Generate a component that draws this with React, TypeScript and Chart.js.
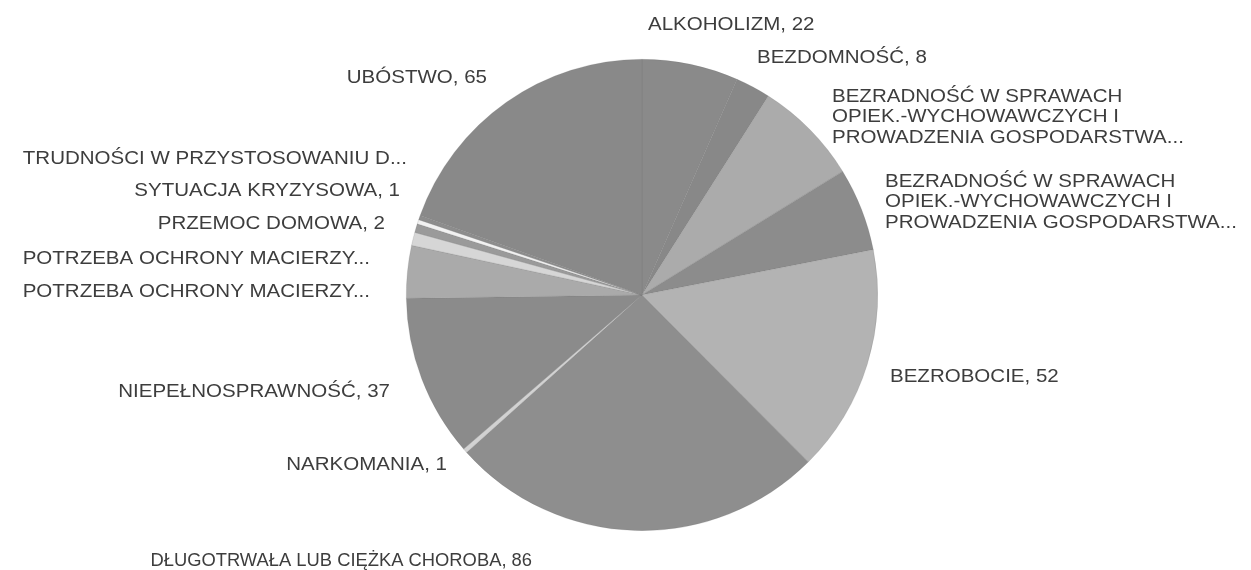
import React, { useEffect, useRef } from "react";
import { Chart, registerables } from "chart.js";

Chart.register(...registerables);

// ---- data ----
const categories = [
  "ALKOHOLIZM",
  "BEZDOMNOŚĆ",
  "BEZRADNOŚĆ W SPRAWACH OPIEK.-WYCHOWAWCZYCH I PROWADZENIA GOSPODARSTWA (1)",
  "BEZRADNOŚĆ W SPRAWACH OPIEK.-WYCHOWAWCZYCH I PROWADZENIA GOSPODARSTWA (2)",
  "BEZROBOCIE",
  "DŁUGOTRWAŁA LUB CIĘŻKA CHOROBA",
  "NARKOMANIA",
  "NIEPEŁNOSPRAWNOŚĆ",
  "POTRZEBA OCHRONY MACIERZYŃSTWA (1)",
  "POTRZEBA OCHRONY MACIERZYŃSTWA (2)",
  "PRZEMOC DOMOWA",
  "SYTUACJA KRYZYSOWA",
  "TRUDNOŚCI W PRZYSTOSOWANIU DO ŻYCIA",
  "UBÓSTWO",
];

const values = [22, 8, 24, 19, 52, 86, 1, 37, 12, 3, 2, 1, 1, 65];

const labelLines: string[][] = [
  ["ALKOHOLIZM, 22"],
  ["BEZDOMNOŚĆ, 8"],
  ["BEZRADNOŚĆ W SPRAWACH", "OPIEK.-WYCHOWAWCZYCH I", "PROWADZENIA GOSPODARSTWA..."],
  ["BEZRADNOŚĆ W SPRAWACH", "OPIEK.-WYCHOWAWCZYCH I", "PROWADZENIA GOSPODARSTWA..."],
  ["BEZROBOCIE, 52"],
  ["DŁUGOTRWAŁA LUB CIĘŻKA CHOROBA, 86"],
  ["NARKOMANIA, 1"],
  ["NIEPEŁNOSPRAWNOŚĆ, 37"],
  ["POTRZEBA OCHRONY MACIERZY..."],
  ["POTRZEBA OCHRONY MACIERZY..."],
  ["PRZEMOC DOMOWA, 2"],
  ["SYTUACJA KRYZYSOWA, 1"],
  ["TRUDNOŚCI W PRZYSTOSOWANIU D..."],
  ["UBÓSTWO, 65"],
];

const sliceColors = [
  "#8a8a8a",
  "#888888",
  "#ababab",
  "#8c8c8c",
  "#b3b3b3",
  "#8e8e8e",
  "#d2d2d2",
  "#8b8b8b",
  "#aaaaaa",
  "#d6d6d6",
  "#9a9a9a",
  "#f2f2f2",
  "#8d8d8d",
  "#898989",
];

// label anchor offsets relative to the pie centre (px), with horizontal text scale
const labelAnchors: { dx: number; dy: number; align: "left" | "right"; sx: number }[] = [
  { dx: 6, dy: -270, align: "left", sx: 1.14 },
  { dx: 115, dy: -237, align: "left", sx: 1.14 },
  { dx: 190, dy: -198, align: "left", sx: 1.14 },
  { dx: 243, dy: -113, align: "left", sx: 1.14 },
  { dx: 248, dy: 82, align: "left", sx: 1.14 },
  { dx: -110, dy: 266, align: "right", sx: 1.02 },
  { dx: -195, dy: 170, align: "right", sx: 1.14 },
  { dx: -252, dy: 97, align: "right", sx: 1.14 },
  { dx: -272, dy: -3, align: "right", sx: 1.14 },
  { dx: -272, dy: -36, align: "right", sx: 1.14 },
  { dx: -257, dy: -71, align: "right", sx: 1.14 },
  { dx: -242, dy: -104, align: "right", sx: 1.14 },
  { dx: -235, dy: -136, align: "right", sx: 1.14 },
  { dx: -155, dy: -217, align: "right", sx: 1.14 },
];

const LINE_H = 20.5;

const labelPlugin = {
  id: "sliceLabels",
  afterDatasetsDraw(chart: any) {
    const ctx = chart.ctx as CanvasRenderingContext2D;
    const arc = chart.getDatasetMeta(0).data[0] as any;
    if (!arc) return;
    const cx = arc.x;
    const cy = arc.y;
    ctx.save();
    ctx.font = '18px "Liberation Sans", Arial, sans-serif';
    ctx.fillStyle = "#3d3d3d";
    ctx.textBaseline = "middle";
    ctx.textAlign = "left";
    labelLines.forEach((lines, i) => {
      const a = labelAnchors[i];
      lines.forEach((ln, j) => {
        const w = ctx.measureText(ln).width * a.sx;
        const x0 = a.align === "right" ? cx + a.dx - w : cx + a.dx;
        ctx.save();
        ctx.translate(x0, cy + a.dy + j * LINE_H);
        ctx.scale(a.sx, 1);
        ctx.fillText(ln, 0, 0);
        ctx.restore();
      });
    });
    ctx.restore();
  },
};

export default function App() {
  const ref = useRef<HTMLCanvasElement | null>(null);

  useEffect(() => {
    document.body.style.margin = "0";
    document.body.style.background = "#ffffff";
    const canvas = ref.current;
    if (!canvas) return;
    const chart = new Chart(canvas, {
      type: "pie",
      data: {
        labels: categories,
        datasets: [
          {
            data: values,
            backgroundColor: sliceColors,
            borderColor: "rgba(110,110,110,0.3)",
            borderWidth: 0.6,
          },
        ],
      },
      options: {
        responsive: false,
        animation: false,
        devicePixelRatio: 1,
        layout: { padding: { top: 59, bottom: 39, left: 406, right: 373 } },
        plugins: {
          legend: { display: false },
          tooltip: { enabled: false },
          title: { display: false },
        },
      },
      plugins: [labelPlugin],
    });
    return () => chart.destroy();
  }, []);

  return (
    <div style={{ width: 1251, height: 570, background: "#fff" }}>
      <canvas ref={ref} width={1251} height={570} style={{ display: "block" }} />
    </div>
  );
}
